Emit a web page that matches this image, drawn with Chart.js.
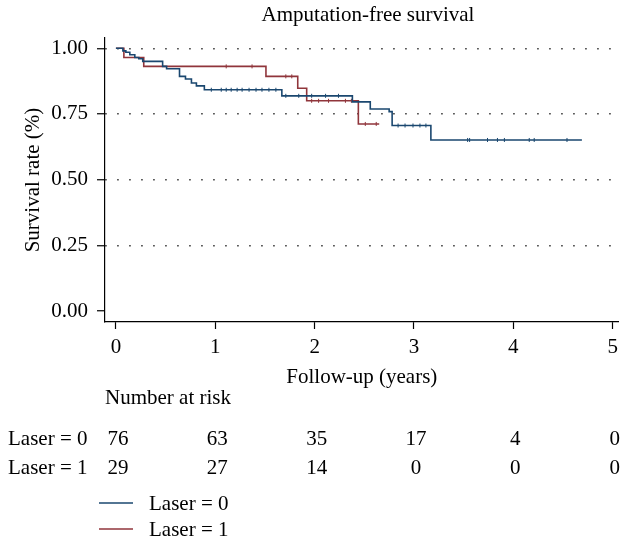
<!DOCTYPE html>
<html>
<head>
<meta charset="utf-8">
<script src="https://cdn.jsdelivr.net/npm/chart.js@4.4.1/dist/chart.umd.min.js"></script>
<style>
  html, body { margin: 0; padding: 0; background: #fff; }
</style>
</head>
<body>
<canvas id="km" width="624" height="541"></canvas>
<script>
const titleText = "Amputation-free survival";
const xTitle = "Follow-up (years)";
const yTitle = "Survival rate (%)";
const xTicks = [0, 1, 2, 3, 4, 5];
const yTicks = [0, 0.25, 0.5, 0.75, 1];
const groups = ["Laser = 0", "Laser = 1"];
const colors = ["#1a476f", "#90353b"];

// Kaplan-Meier steps (years, survival)
const laser0Times = [0, 0.07, 0.10, 0.14, 0.19, 0.23, 0.27, 0.47, 0.51, 0.64, 0.70, 0.76, 0.81, 0.89, 1.67, 2.38, 2.56, 2.75, 2.78, 3.17, 4.69];
const laser0Surv  = [1, 0.990, 0.985, 0.975, 0.965, 0.960, 0.950, 0.931, 0.922, 0.893, 0.883, 0.868, 0.857, 0.842, 0.819, 0.796, 0.769, 0.759, 0.706, 0.651, 0.651];
const laser1Times = [0, 0.08, 0.28, 1.51, 1.83, 1.92, 2.44, 2.65];
const laser1Surv  = [1, 0.965, 0.931, 0.893, 0.848, 0.800, 0.712, 0.712];

// censored cases (small ticks on the curves)
const laser0Censor = [0.96, 1.06, 1.11, 1.16, 1.22, 1.27, 1.34, 1.41, 1.47, 1.54, 1.61, 1.71, 1.84, 1.97, 2.11, 2.24, 2.84, 2.91, 2.99, 3.06, 3.12, 3.54, 3.56, 3.74, 3.84, 3.91, 4.16, 4.21, 4.54];
const laser1Censor = [1.11, 1.37, 1.71, 1.77, 1.97, 2.04, 2.14, 2.31, 2.37, 2.51, 2.62];

// number at risk at each x tick
const atRisk0 = [76, 63, 35, 17, 4, 0];
const atRisk1 = [29, 27, 14, 0, 0, 0];

const FONT = "'Liberation Serif', 'Times New Roman', serif";
const font = { family: FONT, size: 21 };

function steps(times, surv) {
  return times.map((t, i) => ({ x: t, y: surv[i] }));
}

function survAt(times, surv, t) {
  let s = surv[0];
  for (let i = 0; i < times.length; i++) if (times[i] <= t) s = surv[i];
  return s;
}

function censorPoints(list, times, surv) {
  return list.map(t => ({ x: t, y: survAt(times, surv, t) }));
}

// title, number-at-risk table and legend
const extras = {
  id: "extras",
  afterDraw(chart) {
    const ctx = chart.ctx;
    const xs = chart.scales.x;
    ctx.save();
    ctx.fillStyle = "#000";
    ctx.font = `21px ${FONT}`;
    ctx.textBaseline = "middle";

    ctx.textAlign = "center";
    ctx.fillText(titleText, 368, 15);

    ctx.textAlign = "left";
    ctx.fillText("Number at risk", 105, 398);

    [atRisk0, atRisk1].forEach((row, r) => {
      const y = 439 + r * 29;
      ctx.textAlign = "left";
      ctx.fillText(groups[r], 8, y);
      ctx.textAlign = "center";
      row.forEach((n, i) => ctx.fillText(String(n), xs.getPixelForValue(xTicks[i]) + 2, y));
    });

    groups.forEach((g, r) => {
      const y = 503 + r * 26;
      ctx.strokeStyle = colors[r];
      ctx.lineWidth = 1.6;
      ctx.beginPath();
      ctx.moveTo(99, y);
      ctx.lineTo(133, y);
      ctx.stroke();
      ctx.textAlign = "left";
      ctx.fillText(g, 149, y + 1);
    });
    ctx.restore();
  }
};

new Chart(document.getElementById("km"), {
  type: "line",
  data: {
    datasets: [
      {
        data: steps(laser0Times, laser0Surv),
        borderColor: colors[0],
        borderWidth: 1.6,
        stepped: "before",
        pointRadius: 0,
        fill: false
      },
      {
        data: steps(laser1Times, laser1Surv),
        borderColor: colors[1],
        borderWidth: 1.6,
        stepped: "before",
        pointRadius: 0,
        fill: false
      },
      {
        type: "scatter",
        data: censorPoints(laser0Censor, laser0Times, laser0Surv),
        pointStyle: "line",
        rotation: 90,
        radius: 2,
        borderColor: colors[0],
        borderWidth: 1
      },
      {
        type: "scatter",
        data: censorPoints(laser1Censor, laser1Times, laser1Surv),
        pointStyle: "line",
        rotation: 90,
        radius: 2,
        borderColor: colors[1],
        borderWidth: 1
      }
    ]
  },
  options: {
    responsive: false,
    animation: false,
    devicePixelRatio: 1,
    layout: { padding: { left: 0, right: 2, top: 38, bottom: 0 } },
    plugins: { legend: { display: false }, tooltip: { enabled: false } },
    scales: {
      x: {
        type: "linear",
        min: -0.11,
        max: 5.06,
        afterBuildTicks: s => { s.ticks = xTicks.map(v => ({ value: v })); },
        afterFit: s => { s.height = 219; },
        grid: { drawOnChartArea: false, tickLength: 7, tickColor: "#000", tickWidth: 1.2 },
        border: { color: "#000", width: 1.2 },
        ticks: { font, color: "#000", padding: 6, maxRotation: 0, autoSkip: false },
        title: { display: true, text: xTitle, font, color: "#000", padding: { top: 0, bottom: 151 } }
      },
      y: {
        type: "linear",
        min: -0.0415,
        max: 1.039,
        afterBuildTicks: s => { s.ticks = yTicks.map(v => ({ value: v })); },
        afterFit: s => { s.width = 105; },
        grid: {
          color: c => (c.tick && c.tick.value === 0 ? "rgba(0,0,0,0)" : "#333"),
          lineWidth: 1.5,
          tickLength: 8,
          tickColor: "#000",
          tickWidth: 1.2,
          tickBorderDash: []
        },
        border: { color: "#000", width: 1.2, dash: [1.5, 10.5] },
        ticks: { font, color: "#000", padding: 9, callback: v => v.toFixed(2) },
        title: { display: true, text: yTitle, font, color: "#000", padding: { top: 21, bottom: 0 } }
      }
    }
  },
  plugins: [extras]
});
</script>
</body>
</html>
